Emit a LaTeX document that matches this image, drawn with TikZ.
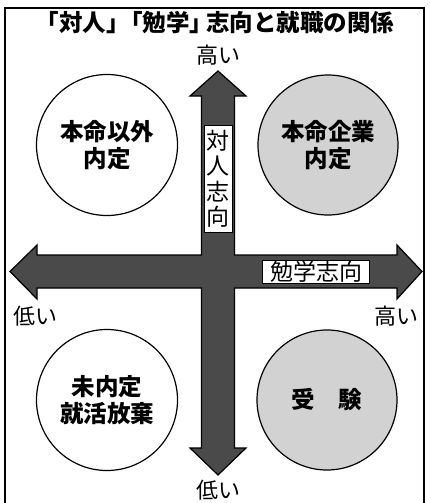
\documentclass[tikz,border=0pt]{standalone}
\usepackage{fontspec}
\newfontfamily\cjk{Noto Sans CJK JP}
\usetikzlibrary{shapes.geometric}
\definecolor{arrowfill}{HTML}{4A4A4A}
\definecolor{greyfill}{HTML}{D2D2D2}
\pgfdeclareradialshading{rimshade}{\pgfpoint{0bp}{0bp}}{color(0bp)=(white); color(26bp)=(white); color(50bp)=(gray!42); color(51bp)=(gray!42)}
\tikzset{
  circletext/.style={font=\cjk\bfseries\fontsize{23.5}{27}\selectfont},
  whitecircle/.style={circle,draw=black,line width=1.2pt,minimum size=141pt,inner sep=0pt,
     shading=rimshade,align=center,circletext},
  greycircle/.style={circle,draw=black,line width=1.2pt,minimum size=140pt,inner sep=0pt,
     fill=greyfill,align=center,circletext},
  axislabel/.style={font=\cjk\fontsize{22}{24}\selectfont,inner sep=0pt},
  labelbox/.style={fill=white,draw=black,line width=0.6pt,inner sep=1pt,font=\cjk\fontsize{23}{27}\selectfont,align=center}
}
\begin{document}
\begin{tikzpicture}[x=1pt,y=-1pt]
\useasboundingbox (0,0) rectangle (429,503);
\fill[white] (0,0) rectangle (429,503);
% frame
\draw[line width=1.5pt] (5,510) -- (5,8) -- (424,8) -- (424,510);
% title
\node[font=\cjk\bfseries\fontsize{23.5}{26}\selectfont,inner sep=0pt] (title) at (215,23) {「対人」\kern-0.45em「勉学」\kern-0.3em 志向と就職の関係};
% circles
\node[whitecircle] (tl) at (107,145) {本命以外\\内定};
\node[greycircle] (tr) at (328,145) {本命企業\\内定};
\node[whitecircle] (bl) at (107,400) {未内定\\就活放棄};
\node[greycircle] (br) at (327,400) {受\hspace{1em}験};
% cross arrows
\draw[fill=arrowfill,line width=1.2pt,line join=miter]
 (218,71) -- (246,96) -- (234.5,96) -- (234.5,255) -- (397,255) -- (397,245) -- (422,271.5)
 -- (397,299) -- (397,288) -- (234.5,288) -- (234.5,448) -- (246,448) -- (218,475)
 -- (190,448) -- (201.5,448) -- (201.5,288) -- (37,288) -- (37,299) -- (10,271.5)
 -- (37,245) -- (37,255) -- (201.5,255) -- (201.5,96) -- (190,96) -- cycle;
% axis labels
\node[labelbox,minimum width=28pt,minimum height=107pt,font=\cjk\fontsize{23}{25.5}\selectfont] (vlab) at (218,179) {対\\人\\志\\向};
\node[labelbox,minimum width=107pt,minimum height=22pt] (hlab) at (316,272) {勉学志向};
\node[axislabel] (tophigh) at (218,55) {高い};
\node[axislabel] (botlow) at (218,490) {低い};
\node[axislabel] (leftlow) at (35,316) {低い};
\node[axislabel] (righthigh) at (396,316) {高い};
\end{tikzpicture}
\end{document}
